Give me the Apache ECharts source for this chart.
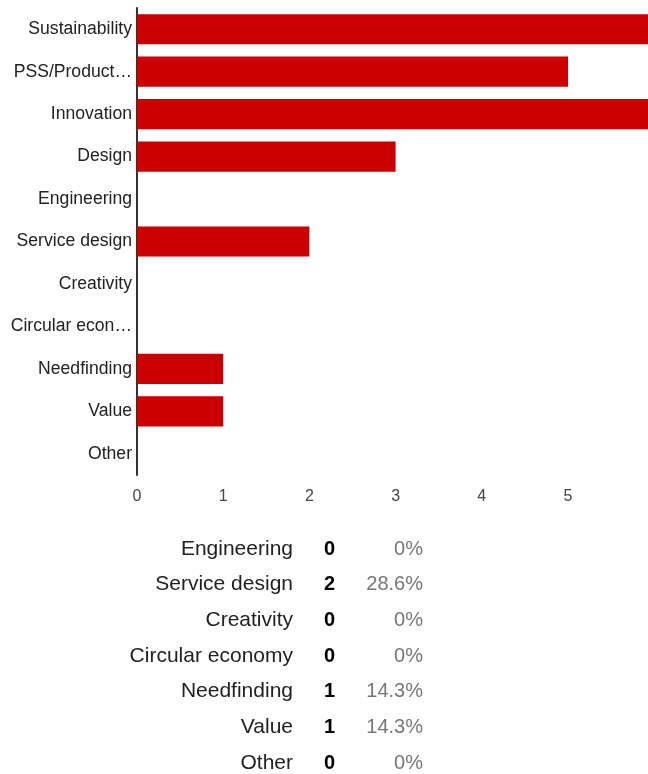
<!DOCTYPE html>
<html>
<head>
<meta charset="utf-8">
<script src="https://cdn.jsdelivr.net/npm/echarts@6/dist/echarts.min.js"></script>
<style>
  html, body { margin: 0; padding: 0; background: #fff; }
  #chart { width: 648px; height: 774px; }
</style>
</head>
<body>
<div id="chart"></div>
<script>
// Topic choices and how many respondents picked each
const categories = ['Sustainability', 'PSS/Product-service systems', 'Innovation', 'Design', 'Engineering',
  'Service design', 'Creativity', 'Circular economy', 'Needfinding', 'Value', 'Other'];
const counts = [6, 5, 6, 3, 0, 2, 0, 0, 1, 1, 0];
const respondents = 7;
const xTicks = [0, 1, 2, 3, 4, 5, 6, 7];
// Rows visible in the summary table below the bars
const tableRows = ['Engineering', 'Service design', 'Creativity', 'Circular economy', 'Needfinding', 'Value', 'Other'];

const FONT = "'Liberation Sans', Arial, sans-serif";
const unit = 86.2;

function pct(n) {
  const p = Math.round(n / respondents * 1000) / 10;
  return p + '%';
}

const graphic = [];
tableRows.forEach((name, i) => {
  const n = counts[categories.indexOf(name)];
  const y = 549 + i * 35.67;
  graphic.push({ type: 'text', x: 293, y: y, style: { text: name, font: '21px ' + FONT, fill: '#222', align: 'right', verticalAlign: 'middle' } });
  graphic.push({ type: 'text', x: 329.5, y: y, style: { text: String(n), font: 'bold 20px ' + FONT, fill: '#000', align: 'center', verticalAlign: 'middle' } });
  graphic.push({ type: 'text', x: 423, y: y, style: { text: pct(n), font: '20px ' + FONT, fill: '#777', align: 'right', verticalAlign: 'middle' } });
});

const chart = echarts.init(document.getElementById('chart'), null, { renderer: 'canvas' });
chart.setOption({
  animation: false,
  backgroundColor: '#fff',
  grid: { left: 137, top: 8, width: unit * (xTicks.length - 1), height: 467, containLabel: false, outerBoundsMode: 'none' },
  xAxis: {
    type: 'value', min: 0, max: xTicks[xTicks.length - 1], interval: 1,
    axisLine: { show: false }, axisTick: { show: false }, splitLine: { show: false },
    axisLabel: { color: '#444', fontSize: 16, fontFamily: FONT, margin: 14 }
  },
  yAxis: {
    type: 'category', data: categories, inverse: true,
    axisLine: { show: true, lineStyle: { color: '#333', width: 2 } },
    axisTick: { show: false },
    axisLabel: { color: '#222', fontSize: 17.6, fontFamily: FONT, margin: 5, width: 124, overflow: 'truncate', ellipsis: '…' }
  },
  series: [{
    type: 'bar', data: counts, barCategoryGap: '29%',
    itemStyle: { color: '#cc0000' }
  }],
  graphic: graphic
});
</script>
</body>
</html>
